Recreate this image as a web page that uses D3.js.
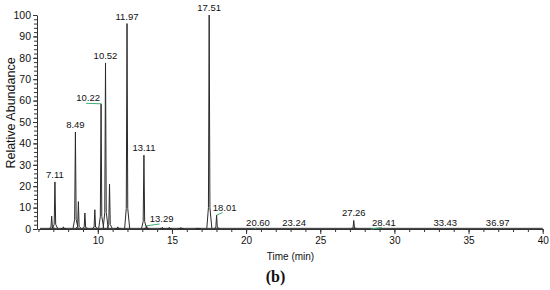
<!DOCTYPE html>
<html>
<head>
<meta charset="utf-8">
<script src="https://cdn.jsdelivr.net/npm/d3@7"></script>
<style>
  body { margin: 0; background: #fff; }
  text { font-family: Arial, "Liberation Sans", sans-serif; }
</style>
</head>
<body>
<div id="chart"></div>
<script>
// chromatogram peaks: retention time (min) and relative abundance (%)
var peakTimes   = [6.89, 7.11, 7.68, 8.49, 8.69, 9.13, 9.80, 10.22, 10.52, 10.79, 11.35, 11.97, 13.11, 13.29, 14.35, 14.82, 15.60, 16.75, 17.51, 18.01, 27.26];
var peakHeights = [6, 22, 1, 45.3, 12.8, 7.5, 9, 58.5, 77.6, 21, 1, 96, 34.5, 1.5, 0.8, 0.8, 0.7, 0.5, 100, 6.5, 4];

// labelled retention times
var labelTimes = ["7.11", "8.49", "10.22", "10.52", "11.97", "13.11", "13.29", "17.51", "18.01", "20.60", "23.24", "27.26", "28.41", "33.43", "36.97"];

// axis ticks
var xTicks = [10, 15, 20, 25, 30, 35, 40];
var yTicks = [0, 10, 20, 30, 40, 50, 60, 70, 80, 90, 100];

// label nudges (px) and which labels get a leader line
var labelNudge = {"10.22": -13, "13.29": 15, "18.01": 8, "20.60": 3, "28.41": 13};
var leaders = ["10.22", "13.29", "18.01", "20.60", "28.41"];

var svg = d3.select("#chart")
  .append("svg")
    .attr("width", 550)
    .attr("height", 290);

var x = d3.scaleLinear()
    .domain([5.9, 40])
    .range([37, 542.7]);

var y = d3.scaleLinear()
    .domain([0, 100])
    .range([229, 15]);

var axisColor = "#333";

// minor ticks first
svg.append("g")
    .attr("transform", "translate(0,229)")
    .call(d3.axisBottom(x).tickValues(d3.range(6, 41, 1)).tickSize(3).tickFormat(""))
    .call(g => g.select(".domain").remove());

svg.append("g")
    .attr("transform", "translate(37,0)")
    .call(d3.axisLeft(y).tickValues(d3.range(0, 101, 2)).tickSize(3).tickFormat(""))
    .call(g => g.select(".domain").remove());

// major axes
var xAxis = svg.append("g")
    .attr("transform", "translate(0,229)")
    .call(d3.axisBottom(x).tickValues(xTicks).tickSize(5).tickSizeOuter(0).tickPadding(3));

var yAxis = svg.append("g")
    .attr("transform", "translate(37,0)")
    .call(d3.axisLeft(y).tickValues(yTicks).tickSize(4).tickSizeOuter(0).tickPadding(2));

svg.selectAll(".tick line, .domain").attr("stroke", axisColor);
xAxis.selectAll("text").attr("font-size", 10).attr("fill", "#111").attr("font-family", "Arial, 'Liberation Sans', sans-serif");
yAxis.selectAll("text").attr("font-size", 10.5).attr("fill", "#111").attr("font-family", "Arial, 'Liberation Sans', sans-serif");

// axis titles
svg.append("text")
    .attr("transform", "translate(15,113) rotate(-90)")
    .attr("text-anchor", "middle")
    .attr("font-size", 12.5)
    .attr("fill", "#111")
    .text("Relative Abundance");

svg.append("text")
    .attr("x", 290.5)
    .attr("y", 260)
    .attr("text-anchor", "middle")
    .attr("font-size", 10)
    .attr("fill", "#111")
    .text("Time (min)");

svg.append("text")
    .attr("x", 275.5)
    .attr("y", 282)
    .attr("text-anchor", "middle")
    .attr("font-size", 16)
    .attr("font-weight", "bold")
    .style("font-family", "'Liberation Serif', 'Times New Roman', serif")
    .attr("fill", "#111")
    .text("(b)");

// trace: baseline plus one narrow path per peak
var line = d3.line()
    .x(d => x(d[0]))
    .y(d => y(d[1]));

svg.append("path")
    .attr("d", line([[6.1, 0.3], [40, 0.3]]))
    .attr("fill", "none")
    .attr("stroke", "#2a2a2a")
    .attr("stroke-width", 1);

var peaks = peakTimes.map((t, i) => ({t: t, h: peakHeights[i]}));

svg.selectAll(".peak")
  .data(peaks)
  .enter().append("path")
    .attr("class", "peak")
    .attr("d", d => line([[d.t - 0.16, 0.3], [d.t - 0.05, d.h * 0.1], [d.t, d.h], [d.t + 0.05, d.h * 0.1], [d.t + 0.18, 0.3]]))
    .attr("fill", "none")
    .attr("stroke", "#2a2a2a")
    .attr("stroke-width", 1)
    .attr("stroke-linejoin", "round");

// peak labels
function heightAt(t) {
  var p = peaks.find(d => Math.abs(d.t - t) < 0.05);
  return p ? p.h : 0;
}

var labels = labelTimes.map(s => {
  var t = +s, h = heightAt(t);
  var lx = x(t) + (labelNudge[s] || 0);
  var ly = h > 0 ? y(h) - 4 : y(0) - 3.5;
  if (s === "18.01") ly = y(h) - 4.5;
  if (s === "10.22") ly = y(h) - 2.5;
  if (s === "13.29") ly = y(0) - 7;
  return {s: s, t: t, h: h, lx: lx, ly: ly};
});

svg.selectAll(".leader")
  .data(labels.filter(d => leaders.indexOf(d.s) >= 0))
  .enter().append("line")
    .attr("class", "leader")
    .attr("x1", d => x(d.t))
    .attr("y1", d => y(d.h))
    .attr("x2", d => d.lx - 2)
    .attr("y2", d => d.ly + 2)
    .attr("stroke", "#3fae77")
    .attr("stroke-width", 1);

svg.selectAll(".plabel")
  .data(labels)
  .enter().append("text")
    .attr("class", "plabel")
    .attr("x", d => d.lx)
    .attr("y", d => d.ly)
    .attr("text-anchor", "middle")
    .attr("font-size", 9.5)
    .attr("fill", "#111")
    .text(d => d.s);
</script>
</body>
</html>
